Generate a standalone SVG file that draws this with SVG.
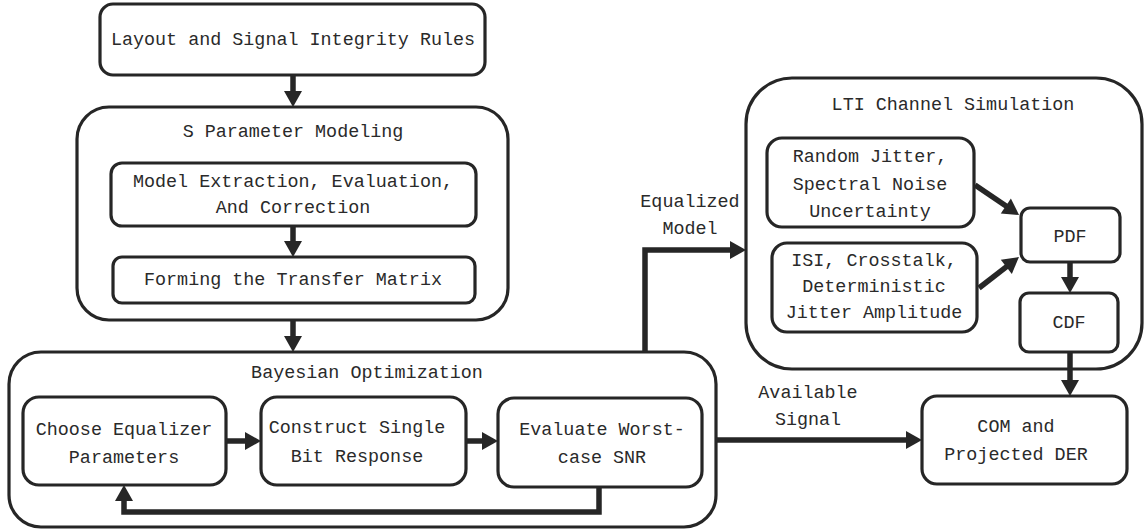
<svg xmlns="http://www.w3.org/2000/svg" width="1145" height="531" viewBox="0 0 1145 531">
<style>
.box{fill:#fff;stroke:#262626;stroke-width:3.2}
.grp{fill:none;stroke:#262626;stroke-width:3.2}
text{font-family:"Liberation Mono","DejaVu Sans Mono",monospace;font-size:18.4px;fill:#2a2a2a;text-anchor:middle;dominant-baseline:central}
.c{fill:none;stroke:#262626;stroke-width:5.5}
</style>
<defs>
<marker id="ah" markerUnits="userSpaceOnUse" markerWidth="17" markerHeight="19" refX="2" refY="9" orient="auto" overflow="visible">
<path d="M0,0 L16,9 L0,18 z" fill="#262626"/>
</marker>
</defs>
<rect width="1145" height="531" fill="#fff"/>
<g id="layout">
<rect class="box" x="100" y="4" width="385" height="71" rx="13"/>
<text x="293" y="40">Layout and Signal Integrity Rules</text>
</g>
<g id="sparam">
<rect class="grp" x="77" y="107" width="431" height="213" rx="32"/>
<text x="293" y="132">S Parameter Modeling</text>
</g>
<g id="extract">
<rect class="box" x="111" y="163" width="365" height="63" rx="11"/>
<text x="293" y="182">Model Extraction, Evaluation,</text>
<text x="293" y="208">And Correction</text>
</g>
<g id="transfer">
<rect class="box" x="113" y="257" width="362" height="46" rx="9"/>
<text x="293" y="280">Forming the Transfer Matrix</text>
</g>
<g id="bayes">
<rect class="grp" x="9" y="352" width="707" height="175" rx="32"/>
<text x="367" y="373">Bayesian Optimization</text>
</g>
<g id="choose">
<rect class="box" x="23" y="397" width="203" height="88" rx="16"/>
<text x="124" y="430">Choose Equalizer</text>
<text x="124" y="458">Parameters</text>
</g>
<g id="construct">
<rect class="box" x="261" y="397" width="205" height="88" rx="16"/>
<text x="357" y="428">Construct Single</text>
<text x="357" y="457">Bit Response</text>
</g>
<g id="evaluate">
<rect class="box" x="498" y="398" width="204" height="89" rx="16"/>
<text x="602" y="430">Evaluate Worst-</text>
<text x="602" y="458">case SNR</text>
</g>
<g id="lti">
<rect class="grp" x="746" y="78" width="396" height="291" rx="46"/>
<text x="953" y="105">LTI Channel Simulation</text>
</g>
<g id="random">
<rect class="box" x="767" y="138" width="207" height="89" rx="15"/>
<text x="870" y="157">Random Jitter,</text>
<text x="870" y="185">Spectral Noise</text>
<text x="870" y="212">Uncertainty</text>
</g>
<g id="isi">
<rect class="box" x="772" y="243" width="205" height="89" rx="15"/>
<text x="874" y="261">ISI, Crosstalk,</text>
<text x="874" y="287">Deterministic</text>
<text x="874" y="313">Jitter Amplitude</text>
</g>
<g id="pdf">
<rect class="box" x="1021" y="208" width="99" height="54" rx="9"/>
<text x="1070" y="237">PDF</text>
</g>
<g id="cdf">
<rect class="box" x="1020" y="293" width="98" height="59" rx="9"/>
<text x="1069" y="323">CDF</text>
</g>
<g id="com">
<rect class="box" x="922" y="396" width="205" height="88" rx="15"/>
<text x="1016" y="427">COM and</text>
<text x="1016" y="455">Projected DER</text>
</g>
<g id="labels">
<text x="690" y="202">Equalized</text>
<text x="690" y="229">Model</text>
<text x="808" y="393">Available</text>
<text x="808" y="420">Signal</text>
</g>
<g id="connectors">
<path class="c" d="M293,75 V93" marker-end="url(#ah)"/>
<path class="c" d="M293,226 V243" marker-end="url(#ah)"/>
<path class="c" d="M293,320 V338" marker-end="url(#ah)"/>
<path class="c" d="M226,441 H247" marker-end="url(#ah)"/>
<path class="c" d="M466,441 H484" marker-end="url(#ah)"/>
<path class="c" d="M599,487 V512 H124 V499" marker-end="url(#ah)"/>
<path class="c" d="M645,352 V250 H732" marker-end="url(#ah)"/>
<path class="c" d="M975,185 L1007.5,207.1" marker-end="url(#ah)"/>
<path class="c" d="M979,288 L1007.9,265.6" marker-end="url(#ah)"/>
<path class="c" d="M1070,262 V279" marker-end="url(#ah)"/>
<path class="c" d="M1070,352 V382" marker-end="url(#ah)"/>
<path class="c" d="M716,440 H908" marker-end="url(#ah)"/>
</g>
</svg>
